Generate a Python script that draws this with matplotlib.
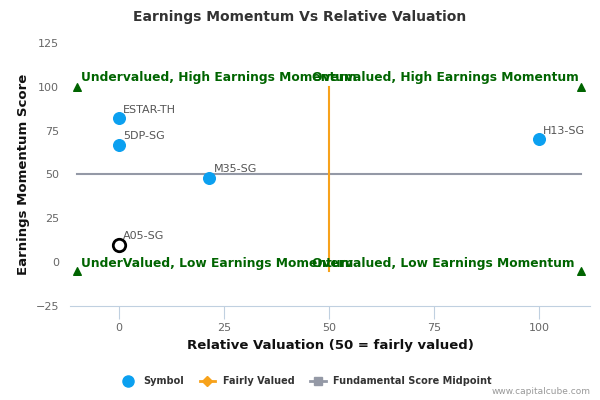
import matplotlib.pyplot as plt
from matplotlib.lines import Line2D

# data
symbols = ['ESTAR-TH', '5DP-SG', 'M35-SG', 'H13-SG', 'A05-SG']
valuation = [0, 0, 21.5, 100, 0]
momentum = [82, 67, 48, 70, 10]
highlight = 'A05-SG'

fair_x = [50, 50]
fair_y = [100, -5]
mid_x = [-10, 110]
mid_y = [50, 50]
corner_x = [-10, 110, -10, 110]
corner_y = [100, 100, -5, -5]

quadrants = [
    ('Undervalued, High Earnings Momentum', -9, 105.5),
    ('Overvalued, High Earnings Momentum', 46, 105.5),
    ('UnderValued, Low Earnings Momentum', -9, -0.6),
    ('Overvalued, Low Earnings Momentum', 46, -0.6),
]

x_ticks = [0, 25, 50, 75, 100]
y_ticks = [-25, 0, 25, 50, 75, 100, 125]

fig = plt.figure(figsize=(6, 4), dpi=100)
ax = fig.add_axes([70 / 600, 94 / 400, 520 / 600, 263 / 400])

ax.plot(mid_x, mid_y, color='#9499a6', lw=1.5, zorder=1)
ax.plot(fair_x, fair_y, color='#f7a21b', lw=1.5, zorder=1)
ax.scatter(corner_x, corner_y, marker='^', s=30, color='#006400', zorder=2)

for s, vx, my in zip(symbols, valuation, momentum):
    if s == highlight:
        ax.scatter(vx, my, s=80, facecolor='white', edgecolor='black', lw=2, zorder=3)
    else:
        ax.scatter(vx, my, s=70, color='#0ba0f0', zorder=3)
    ax.annotate(s, (vx, my), xytext=(3, 4), textcoords='offset points',
                fontsize=8, color='#555555')

for label, qx, qy in quadrants:
    ax.text(qx, qy, label, color='#006400', fontsize=8.8, fontweight='bold',
            va='center', ha='left')

ax.set_xlim(-11.7, 112.1)
ax.set_ylim(-25, 125)
ax.set_xticks(x_ticks)
ax.set_yticks(y_ticks)
ax.tick_params(axis='x', colors='#c0d0e0', length=9, labelcolor='#666666', labelsize=8)
ax.tick_params(axis='y', length=0, labelcolor='#666666', labelsize=8, pad=8)
for side in ['top', 'right', 'left']:
    ax.spines[side].set_visible(False)
ax.spines['bottom'].set_color('#c0d0e0')

ax.set_xlabel('Relative Valuation (50 = fairly valued)', fontsize=9.5,
              fontweight='bold', color='#111111')
ax.set_ylabel('Earnings Momentum Score', fontsize=9.5, fontweight='bold',
              color='#111111')

fig.text(0.5, 0.958, 'Earnings Momentum Vs Relative Valuation', ha='center',
         va='center', fontsize=10, fontweight='bold', color='#333333')

handles = [
    Line2D([], [], marker='o', ls='none', color='#0ba0f0', markersize=8),
    Line2D([], [], marker='D', color='#f7a21b', markersize=5, lw=2),
    Line2D([], [], marker='s', color='#9499a6', markersize=6, lw=2),
]
fig.legend(handles, ['Symbol', 'Fairly Valued', 'Fundamental Score Midpoint'],
           loc='center', bbox_to_anchor=(0.51, 0.047), ncol=3, frameon=False,
           prop={'size': 7, 'weight': 'bold'}, labelcolor='#333333',
           handlelength=1.6, columnspacing=1.6)

fig.text(0.985, 0.02, 'www.capitalcube.com', ha='right', va='center',
         fontsize=6.5, color='#999999')

fig.savefig('out.png', dpi=100)
